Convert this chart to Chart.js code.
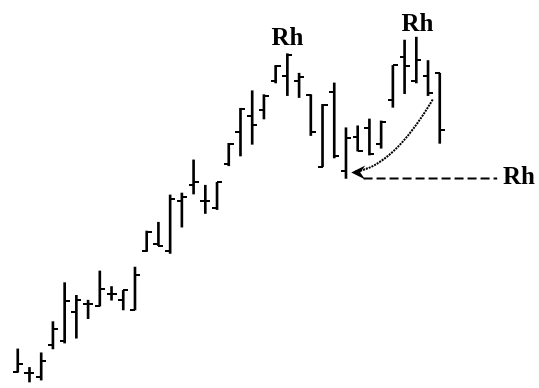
<!DOCTYPE html>
<html>
<head>
<meta charset="utf-8">
<script src="https://cdn.jsdelivr.net/npm/chart.js@4"></script>
<style>
  html, body { margin: 0; padding: 0; background: #fff; }
  #wrap { width: 539px; height: 388px; }
</style>
</head>
<body>
<div id="wrap"><canvas id="chart"></canvas></div>
<script>
// price bars (arbitrary price units)
const highs  = [47, 28, 43, 75, 115, 102, 97, 127, 111, 107, 131, 168, 177, 205, 207, 241, 215, 218, 258,
                294, 312, 308, 338, 350, 330, 308, 298, 320, 274, 276, 283, 281, 338, 364, 367, 343, 330];
const lows   = [23, 13, 15, 47, 53, 58, 78, 91, 97, 87, 87, 147, 153, 145, 172, 206, 186, 190, 235,
                245, 257, 283, 320, 307, 305, 266, 234, 243, 222, 250, 246, 253, 295, 309, 320, 307, 258];
const opens  = [23, 22, 18, 51, 55, 85, 93, 91, 103, 97, 87, 147, 155, 148, 199, 215, 199, 192, 237,
                270, 286, 292, 322, 327, 322, 308, 234, 311, 230, 265, 274, 257, 302, 347, 322, 327, 330];
const closes = [32, 22, 35, 67, 96, 97, 93, 108, 103, 107, 123, 167, 153, 201, 203, 218, 199, 218, 257,
                293, 277, 307, 337, 349, 326, 270, 297, 245, 263, 250, 247, 280, 338, 337, 344, 310, 272];

// "Rh" labels
const rhText = ['Rh', 'Rh', 'Rh'];
const rhX = [23.0, 34.1, 42.75];
const rhY = [366, 380, 223];

// arrow from the last swing back to the low, and the dashed level line
const curveFrom = [35.4, 303];
const curveCtrl = [32.0, 234];
const curveTo = [28.8, 229];
const arrowTip = [28.45, 228];
const levelY = 222;
const levelFrom = 29.5;
const levelTo = 40.9;

function makeTick(side) {
    const c = document.createElement('canvas');
    c.width = 10;
    c.height = 2;
    const g = c.getContext('2d');
    g.fillStyle = '#000';
    g.fillRect(side === 'left' ? 0 : 5, 0, 5, 2);
    return c;
}

const annotate = {
    id: 'annotate',
    beforeDatasetsDraw(chart) {
        chart.ctx.imageSmoothingEnabled = false;
    },
    afterDatasetsDraw(chart) {
        const ctx = chart.ctx;
        const x = chart.scales.x, y = chart.scales.y;
        const px = p => [x.getPixelForValue(p[0]), y.getPixelForValue(p[1])];
        ctx.save();
        ctx.strokeStyle = '#000';
        ctx.fillStyle = '#000';

        // dotted curve
        const [x0, y0] = px(curveFrom), [cx, cy] = px(curveCtrl), [x1, y1] = px(curveTo);
        ctx.lineWidth = 2;
        ctx.setLineDash([2, 1]);
        ctx.beginPath();
        ctx.moveTo(x0, y0);
        ctx.quadraticCurveTo(cx, cy, x1, y1);
        ctx.stroke();

        // dashed level line
        const ly = y.getPixelForValue(levelY);
        ctx.lineWidth = 2;
        ctx.setLineDash([9, 4]);
        ctx.beginPath();
        ctx.moveTo(x.getPixelForValue(levelFrom), ly);
        ctx.lineTo(x.getPixelForValue(levelTo), ly);
        ctx.stroke();

        // arrowhead
        ctx.setLineDash([]);
        const [tx, ty] = px(arrowTip);
        ctx.beginPath();
        ctx.moveTo(tx, ty);
        ctx.lineTo(tx + 14, ty - 7);
        ctx.lineTo(tx + 9, ty);
        ctx.lineTo(tx + 14, ty + 7);
        ctx.closePath();
        ctx.fill();

        // labels
        ctx.font = 'bold 25px "Liberation Serif"';
        ctx.textAlign = 'center';
        ctx.textBaseline = 'middle';
        rhText.forEach((t, i) => {
            const [lx, lyy] = px([rhX[i], rhY[i]]);
            ctx.fillText(t, lx, lyy);
        });
        ctx.restore();
    }
};

const idx = highs.map((_, i) => i);

new Chart(document.getElementById('chart'), {
    type: 'bar',
    data: {
        datasets: [
            {
                label: 'range',
                data: idx.map(i => ({ x: i, y: [lows[i], highs[i]] })),
                backgroundColor: '#000',
                borderWidth: 0,
                barThickness: 2,
                borderSkipped: false
            },
            {
                type: 'scatter',
                label: 'open',
                data: idx.map(i => ({ x: i, y: opens[i] })),
                pointStyle: makeTick('left'),
                pointRadius: 3
            },
            {
                type: 'scatter',
                label: 'close',
                data: idx.map(i => ({ x: i, y: closes[i] })),
                pointStyle: makeTick('right'),
                pointRadius: 3
            }
        ]
    },
    options: {
        responsive: true,
        maintainAspectRatio: false,
        animation: false,
        layout: { padding: 0 },
        plugins: {
            legend: { display: false },
            tooltip: { enabled: false }
        },
        scales: {
            x: { type: 'linear', display: false, offset: false, min: -1.088, max: 44.04 },
            y: { display: false, min: 12, max: 400 }
        }
    },
    plugins: [annotate]
});
</script>
</body>
</html>
